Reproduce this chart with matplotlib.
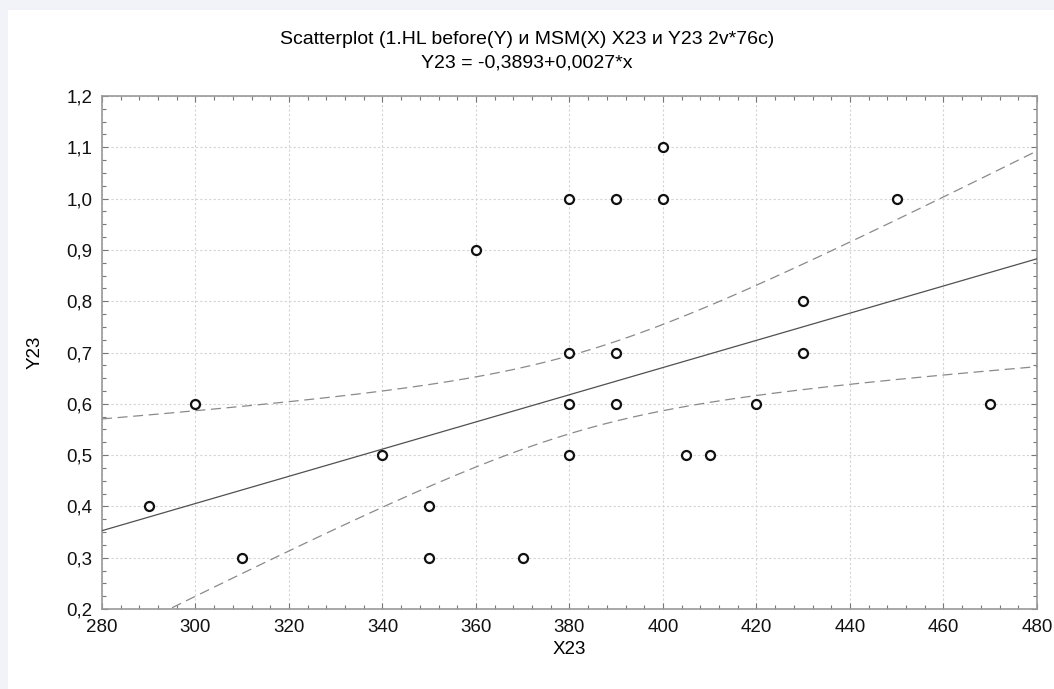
import numpy as np
import matplotlib
matplotlib.use('Agg')
from matplotlib import pyplot as plt
from matplotlib.ticker import MultipleLocator, FuncFormatter
from matplotlib.patches import Rectangle

x23 = [290, 300, 310, 340, 350, 350, 360, 370, 380, 380, 380, 380,
       390, 390, 390, 400, 400, 405, 410, 420, 430, 430, 450, 470]
y23 = [0.4, 0.6, 0.3, 0.5, 0.4, 0.3, 0.9, 0.3, 1.0, 0.7, 0.6, 0.5,
       1.0, 0.7, 0.6, 1.1, 1.0, 0.5, 0.5, 0.6, 0.8, 0.7, 1.0, 0.6]

title = 'Scatterplot (1.HL before(Y) и MSM(X) X23 и Y23 2v*76c)'
subtitle = 'Y23 = -0,3893+0,0027*x'

# regression line and 95% band (the file holds 76 cases)
intercept = -0.3893
slope = 0.00265
band_center_x = 382.0
band_half_center = 0.076
band_half_at_100 = 0.214

plt.rcParams['font.family'] = ['Liberation Sans', 'DejaVu Sans']

xs = np.linspace(280, 480, 300)
fit = intercept + slope * xs
half = np.sqrt(band_half_center ** 2 +
               (band_half_at_100 ** 2 - band_half_center ** 2) * ((xs - band_center_x) / 100.0) ** 2)

fig = plt.figure(figsize=(10.54, 6.89), dpi=100, facecolor='#f1f3f8')
bg = Rectangle((8 / 1054, 0), 1 - 8 / 1054, 1 - 10 / 689,
               transform=fig.transFigure, facecolor='white', edgecolor='none', zorder=-10)
fig.add_artist(bg)
ax = fig.add_axes([102 / 1054, 1 - 609 / 689, 935 / 1054, 513 / 689])
ax.set_zorder(5)

ax.grid(True, which='major', color='#d4d4d4', linestyle=(0, (2, 2)), linewidth=0.8)
ax.plot(xs, fit, color='#505050', linewidth=0.9, zorder=3)
ax.plot(xs, fit + half, color='#8a8a8a', linewidth=0.9, linestyle=(0, (8, 4.5)), zorder=3)
ax.plot(xs, fit - half, color='#8a8a8a', linewidth=0.9, linestyle=(0, (8, 4.5)), zorder=3)
ax.scatter(x23, y23, s=42, facecolors='white', edgecolors='#111111', linewidths=1.6, zorder=4)

ax.set_xlim(280, 480)
ax.set_ylim(0.2, 1.2)
ax.xaxis.set_major_locator(MultipleLocator(20))
ax.xaxis.set_minor_locator(MultipleLocator(4))
ax.yaxis.set_major_locator(MultipleLocator(0.1))
ax.yaxis.set_minor_locator(MultipleLocator(0.025))
ax.yaxis.set_major_formatter(FuncFormatter(lambda v, p: '{:.1f}'.format(v).replace('.', ',')))
ax.tick_params(which='both', direction='in', top=True, right=True, color='#777777',
               labelsize=13.5, labelcolor='#111111')
ax.tick_params(which='major', length=4, width=0.8, pad=7)
ax.tick_params(which='minor', length=3, width=0.8)
for side in ax.spines.values():
    side.set_color('#999999')
    side.set_linewidth(1.2)

ax.set_xlabel('X23', fontsize=13.5, labelpad=4)
ax.set_ylabel('Y23', fontsize=13.5, labelpad=16)
fig.text(0.5, 1 - 39 / 689, title, ha='center', va='center', fontsize=14)
fig.text(0.5, 1 - 63 / 689, subtitle, ha='center', va='center', fontsize=14)

fig.savefig('out.png', dpi=100, facecolor=fig.get_facecolor())
